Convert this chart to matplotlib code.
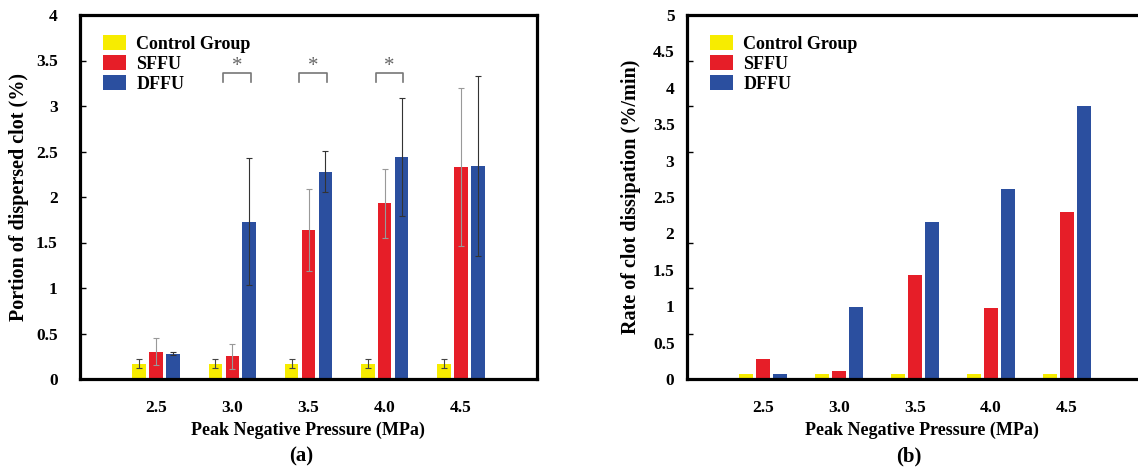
import matplotlib
matplotlib.use("Agg")
import matplotlib.pyplot as plt
from matplotlib.patches import Patch
import numpy as np

plt.rcParams['font.family'] = ['Liberation Serif', 'DejaVu Serif']
plt.rcParams['font.weight'] = 'bold'

pressures = ['2.5', '3.0', '3.5', '4.0', '4.5']
groups = ['Control Group', 'SFFU', 'DFFU']

# panel (a): portion of dispersed clot (%)
a_control = [0.17, 0.17, 0.17, 0.17, 0.17]
a_control_err = [0.05, 0.05, 0.05, 0.05, 0.05]
a_sffu = [0.30, 0.25, 1.64, 1.93, 2.33]
a_sffu_err = [0.15, 0.14, 0.45, 0.38, 0.87]
a_dffu = [0.28, 1.73, 2.28, 2.44, 2.34]
a_dffu_err = [0.015, 0.70, 0.23, 0.65, 0.99]
signif = [1, 2, 3]  # groups marked with *

# panel (b): rate of clot dissipation (%/min)
b_control = [0.07, 0.07, 0.07, 0.07, 0.07]
b_sffu = [0.27, 0.11, 1.43, 0.98, 2.30]
b_dffu = [0.07, 0.99, 2.15, 2.61, 3.75]

colors = ['#f7ec00', '#e61e28', '#2b4f9f']
x = np.arange(len(pressures))
off = 0.222
w = 0.178

fig = plt.figure(figsize=(11.38, 4.70), dpi=100)
ax1 = fig.add_axes([80/1138, 91/470, 457/1138, 364/470])
ax2 = fig.add_axes([687/1138, 91/470, 456/1138, 364/470])

# ---- (a)
ax1.bar(x - off, a_control, w, color=colors[0], zorder=2)
ax1.bar(x, a_sffu, w, color=colors[1], zorder=2)
ax1.bar(x + off, a_dffu, w, color=colors[2], zorder=2)
ax1.errorbar(x - off, a_control, yerr=a_control_err, fmt='none', ecolor='#444444',
             elinewidth=0.8, capsize=2.5, capthick=0.8, zorder=3)
ax1.errorbar(x, a_sffu, yerr=a_sffu_err, fmt='none', ecolor='#999999',
             elinewidth=0.8, capsize=2.5, capthick=0.8, zorder=3)
ax1.errorbar(x + off, a_dffu, yerr=a_dffu_err, fmt='none', ecolor='#333333',
             elinewidth=0.8, capsize=2.5, capthick=0.8, zorder=3)

for g in signif:
    ax1.plot([g - 0.12, g - 0.12, g + 0.24, g + 0.24], [3.26, 3.36, 3.36, 3.26],
             color='#777777', lw=1.2, zorder=3)
    ax1.text(g + 0.06, 3.43, '*', ha='center', va='center', fontsize=15,
             color='#666666', fontweight='normal')

ax1.set_ylim(0, 4)
ax1.set_yticks(np.arange(0, 4.01, 0.5))
ax1.set_yticklabels(['0', '0.5', '1', '1.5', '2', '2.5', '3', '3.5', '4'])
ax1.tick_params(axis='y', direction='in', length=4, width=1, pad=16, labelsize=12.5)

# ---- (b)
ax2.bar(x - off, b_control, w, color=colors[0], zorder=2)
ax2.bar(x, b_sffu, w, color=colors[1], zorder=2)
ax2.bar(x + off, b_dffu, w, color=colors[2], zorder=2)
ax2.set_ylim(0, 5)
ax2.set_yticks(np.arange(0, 5.01, 0.5))
ax2.set_yticklabels(['0', '0.5', '1', '1.5', '2', '2.5', '3', '3.5', '4', '4.5', '5'])
ax2.set_yticks(np.arange(0.625, 5, 0.625), minor=True)
ax2.tick_params(axis='y', which='major', length=0, pad=9, labelsize=12.5)
ax2.tick_params(axis='y', which='minor', direction='in', length=4, width=1)

for ax, lab in [(ax1, 'Portion of dispersed clot (%)'),
                (ax2, 'Rate of clot dissipation (%/min)')]:
    ax.set_xlim(-1, 5)
    ax.set_xticks(x)
    ax.set_xticklabels(pressures)
    ax.tick_params(axis='x', direction='in', length=4, width=1, pad=15, labelsize=12.5)
    for s in ax.spines.values():
        s.set_linewidth(2.3)
    ax.set_ylabel(lab, fontsize=14.5, fontweight='bold')
    handles = [Patch(facecolor=c) for c in colors]
    ax.legend(handles, groups, loc='upper left', bbox_to_anchor=(0.05, 0.945),
              frameon=False, fontsize=13, handlelength=1.3, handleheight=0.9,
              handletextpad=0.55, labelspacing=0.12, borderpad=0, borderaxespad=0)

ax1.yaxis.set_label_coords(-0.112, 0.5)
ax2.yaxis.set_label_coords(-0.10, 0.5)

fig.text(308/1138, 1 - 430/470, 'Peak Negative Pressure (MPa)', ha='center', va='center', fontsize=13)
fig.text(301/1138, 1 - 456/470, '(a)', ha='center', va='center', fontsize=15)
fig.text(922/1138, 1 - 430/470, 'Peak Negative Pressure (MPa)', ha='center', va='center', fontsize=13)
fig.text(909/1138, 1 - 456/470, '(b)', ha='center', va='center', fontsize=15)

fig.savefig('out.png', dpi=100)
